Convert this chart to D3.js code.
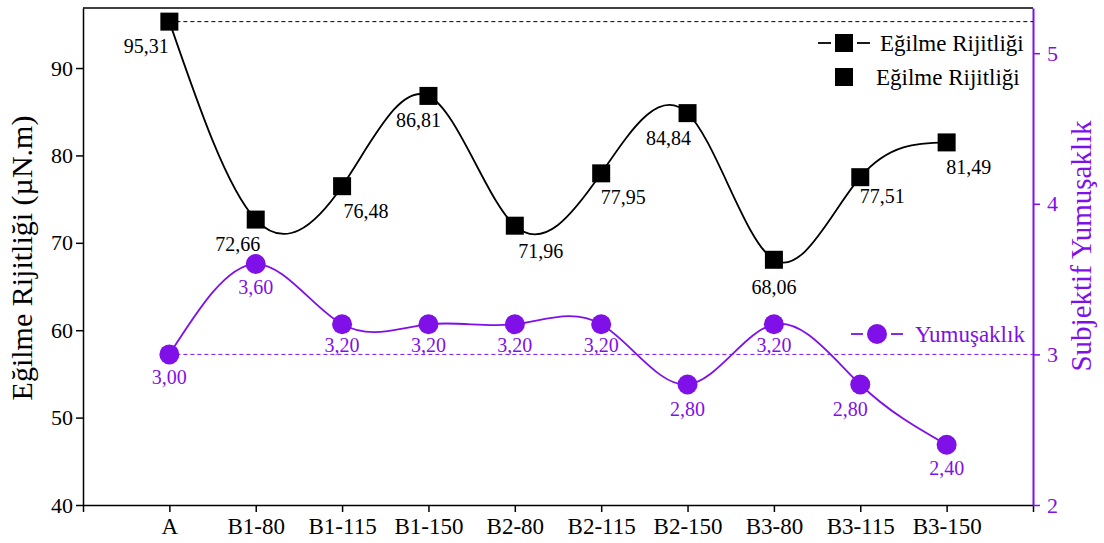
<!DOCTYPE html>
<html>
<head>
<meta charset="utf-8">
<script src="https://cdn.jsdelivr.net/npm/d3@7"></script>
<style>
  body { margin: 0; background: #fff; }
</style>
</head>
<body>
<svg id="chart" width="1104" height="543"></svg>
<script>
const categories = ['A', 'B1-80', 'B1-115', 'B1-150', 'B2-80', 'B2-115', 'B2-150', 'B3-80', 'B3-115', 'B3-150'];
const rigidity = [95.31, 72.66, 76.48, 86.81, 71.96, 77.95, 84.84, 68.06, 77.51, 81.49];
const softness = [3.00, 3.60, 3.20, 3.20, 3.20, 3.20, 2.80, 3.20, 2.80, 2.40];
const leftTicks = [40, 50, 60, 70, 80, 90];
const rightTicks = [2, 3, 4, 5];

// label offsets per point (dx, dy) relative to marker
const rigLabelPos = [[-23, 31], [-18, 31], [24, 32], [-10, 31], [26, 32], [22, 31], [-19, 32], [0, 34], [22, 26], [22, 32]];
const softLabelPos = [[0, 30], [0, 30], [0, 28], [0, 28], [0, 28], [0, 28], [0, 31], [0, 28], [-10, 31], [0, 30]];

const black = '#000';
const purple = '#7f10e8';
const serif = '"Liberation Serif", "Times New Roman", Times, serif';

const margin = {top: 8, left: 83, right: 71, bottom: 38};
const width = 1104, height = 543;
const plotW = width - margin.left - margin.right;
const plotH = height - margin.top - margin.bottom;

const svg = d3.select('#chart').attr('font-family', serif);
const g = svg.append('g').attr('transform', `translate(${margin.left},${margin.top})`);

const x = d3.scaleLinear().domain([0, categories.length + 1]).range([0, plotW]);
const yL = d3.scaleLinear().domain([40, 96.87]).range([plotH, 0]);
const yR = d3.scaleLinear().domain([2, 5.3]).range([plotH, 0]);

// frame top
g.append('line').attr('x1', 0).attr('x2', plotW).attr('y1', 0).attr('y2', 0)
  .attr('stroke', black).attr('stroke-width', 1.5);

// bottom axis
const xAxis = g.append('g').attr('transform', `translate(0,${plotH})`)
  .call(d3.axisBottom(x).tickValues(d3.range(0, categories.length + 2))
    .tickFormat(i => (i >= 1 && i <= categories.length) ? categories[i - 1] : '')
    .tickSize(7).tickSizeOuter(0));
xAxis.attr('font-family', serif);
xAxis.select('.domain').attr('stroke-width', 1.5);
xAxis.selectAll('line').attr('stroke-width', 1.5);
xAxis.selectAll('text').attr('font-size', 23).attr('y', 13).attr('fill', black);

// left axis
const lAxis = g.append('g')
  .call(d3.axisLeft(yL).tickValues(leftTicks).tickSize(7).tickSizeOuter(0));
lAxis.attr('font-family', serif);
lAxis.select('.domain').attr('stroke-width', 1.5);
lAxis.selectAll('line').attr('stroke-width', 1.5);
lAxis.selectAll('text').attr('font-size', 22).attr('fill', black).attr('x', -10);

// right axis
const rAxis = g.append('g').attr('transform', `translate(${plotW},0)`)
  .call(d3.axisRight(yR).tickValues(rightTicks).tickFormat(d3.format('d')).tickSize(7).tickSizeOuter(0));
rAxis.attr('font-family', serif);
rAxis.select('.domain').attr('stroke', purple).attr('stroke-width', 2);
rAxis.selectAll('line').attr('stroke', purple).attr('stroke-width', 1.5);
rAxis.selectAll('text').attr('font-size', 22).attr('fill', purple).attr('x', 14);

// axis titles
svg.append('text')
  .attr('transform', `translate(32,${margin.top + 250}) rotate(-90)`)
  .attr('text-anchor', 'middle').attr('font-size', 30).attr('fill', black)
  .text('Eğilme Rijitliği (µN.m)');
svg.append('text')
  .attr('transform', `translate(1091,${margin.top + 238}) rotate(-90)`)
  .attr('text-anchor', 'middle').attr('font-size', 29).attr('fill', purple)
  .text('Subjektif Yumuşaklık');

// reference dashed lines
g.append('line')
  .attr('x1', x(1)).attr('x2', plotW).attr('y1', yL(rigidity[0])).attr('y2', yL(rigidity[0]))
  .attr('stroke', black).attr('stroke-width', 1).attr('stroke-dasharray', '4,3');
g.append('line')
  .attr('x1', x(1)).attr('x2', plotW).attr('y1', yR(softness[0])).attr('y2', yR(softness[0]))
  .attr('stroke', purple).attr('stroke-width', 1).attr('stroke-dasharray', '4,3');

// curves
const rigLine = d3.line().x((d, i) => x(i + 1)).y(d => yL(d)).curve(d3.curveNatural);
const softLine = d3.line().x((d, i) => x(i + 1)).y(d => yR(d)).curve(d3.curveNatural);

g.append('path').datum(rigidity).attr('d', rigLine)
  .attr('fill', 'none').attr('stroke', black).attr('stroke-width', 1.8);
g.append('path').datum(softness).attr('d', softLine)
  .attr('fill', 'none').attr('stroke', purple).attr('stroke-width', 1.8);

// markers
g.selectAll('rect.rig').data(rigidity).enter().append('rect')
  .attr('class', 'rig')
  .attr('x', (d, i) => x(i + 1) - 9).attr('y', d => yL(d) - 9)
  .attr('width', 18).attr('height', 18).attr('fill', black);

g.selectAll('circle.soft').data(softness).enter().append('circle')
  .attr('class', 'soft')
  .attr('cx', (d, i) => x(i + 1)).attr('cy', d => yR(d))
  .attr('r', 10).attr('fill', purple);

// value labels
const fmt = v => v.toFixed(2).replace('.', ',');
g.selectAll('text.rigLab').data(rigidity).enter().append('text')
  .attr('class', 'rigLab')
  .attr('x', (d, i) => x(i + 1) + rigLabelPos[i][0])
  .attr('y', (d, i) => yL(d) + rigLabelPos[i][1])
  .attr('text-anchor', 'middle').attr('font-size', 20).attr('fill', black)
  .text(fmt);

g.selectAll('text.softLab').data(softness).enter().append('text')
  .attr('class', 'softLab')
  .attr('x', (d, i) => x(i + 1) + softLabelPos[i][0])
  .attr('y', (d, i) => yR(d) + softLabelPos[i][1])
  .attr('text-anchor', 'middle').attr('font-size', 20).attr('fill', purple)
  .text(fmt);

// legend
const leg = svg.append('g');
leg.append('line').attr('x1', 818).attr('x2', 831).attr('y1', 43).attr('y2', 43)
  .attr('stroke', black).attr('stroke-width', 1.8);
leg.append('rect').attr('x', 835).attr('y', 34).attr('width', 18).attr('height', 18).attr('fill', black);
leg.append('line').attr('x1', 857).attr('x2', 870).attr('y1', 43).attr('y2', 43)
  .attr('stroke', black).attr('stroke-width', 1.8);
leg.append('text').attr('x', 880).attr('y', 51).attr('font-size', 23).attr('fill', black)
  .text('Eğilme Rijitliği');

leg.append('rect').attr('x', 835).attr('y', 68).attr('width', 18).attr('height', 18).attr('fill', black);
leg.append('text').attr('x', 876).attr('y', 85).attr('font-size', 23).attr('fill', black)
  .text('Eğilme Rijitliği');

leg.append('line').attr('x1', 851).attr('x2', 863).attr('y1', 334).attr('y2', 334)
  .attr('stroke', purple).attr('stroke-width', 1.8);
leg.append('circle').attr('cx', 877).attr('cy', 334).attr('r', 10).attr('fill', purple);
leg.append('line').attr('x1', 891).attr('x2', 903).attr('y1', 334).attr('y2', 334)
  .attr('stroke', purple).attr('stroke-width', 1.8);
leg.append('text').attr('x', 915).attr('y', 342).attr('font-size', 23).attr('fill', purple)
  .text('Yumuşaklık');
</script>
</body>
</html>
